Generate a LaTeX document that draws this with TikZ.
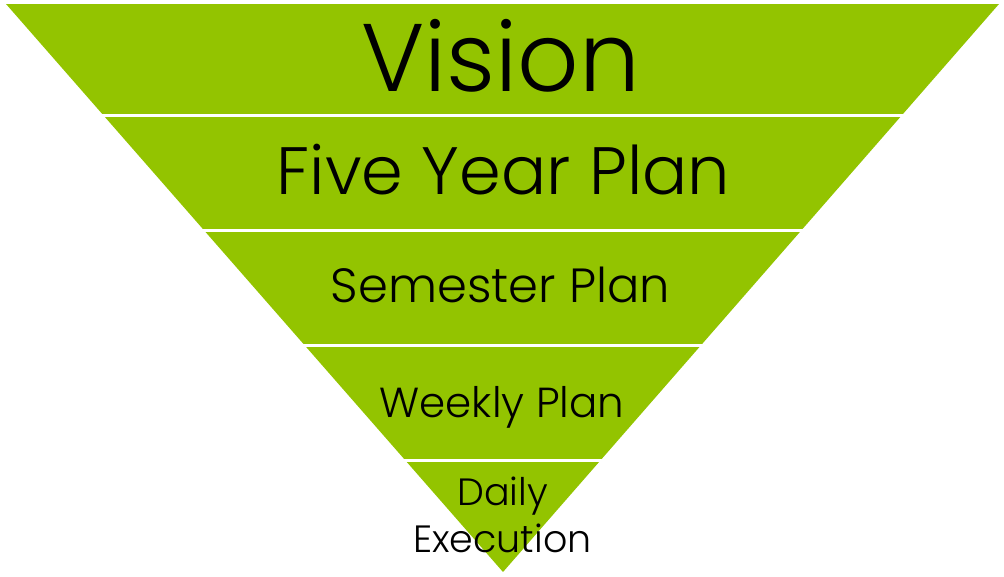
\documentclass[tikz,border=0pt]{standalone}
\usepackage{fontspec}
\setmainfont{Poppins}[UprightFont=* Light]
\definecolor{leaf}{RGB}{147,196,0}
\begin{document}
\begin{tikzpicture}[x=1pt,y=-1pt,
  band/.style={fill=leaf},
  level/.style={anchor=base,inner sep=0pt,text=black}]
\useasboundingbox (0,0) rectangle (1004,577);
\coordinate (tl) at (6,4);
\coordinate (tr) at (999,4);
\coordinate (tip) at (503,572);

\begin{scope}
\clip (tl) -- (tr) -- (tip) -- cycle;
\foreach \top/\bot in {4/114,117/229,232/343.5,346.5/459,462/572}
  \fill[band] (0,\top) rectangle (1004,\bot);
\end{scope}

\node[level,font=\fontsize{96}{96}\selectfont] (vision) at (500.5,92) {Vision};
\node[level,font=\fontsize{67}{67}\selectfont] (five) at (503.5,195) {Five Year Plan};
\node[level,font=\fontsize{48}{48}\selectfont] (semester) at (500.5,303) {Semester Plan};
\node[level,font=\fontsize{42}{42}\selectfont] (weekly) at (502,417) {Weekly Plan};
\node[level,align=center,font=\fontsize{38}{47}\selectfont] (daily) at (502.5,552) {Daily\\Execution};
\end{tikzpicture}
\end{document}
